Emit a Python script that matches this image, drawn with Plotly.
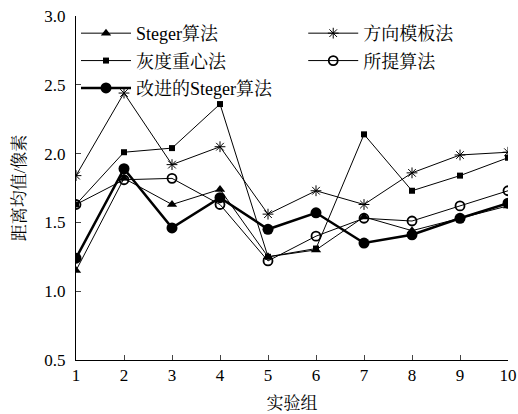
import plotly.graph_objects as go

groups = [1, 2, 3, 4, 5, 6, 7, 8, 9, 10]
steger = [1.15, 1.82, 1.63, 1.74, 1.25, 1.30, 1.54, 1.44, 1.53, 1.62]
direction_template = [1.84, 2.44, 1.92, 2.05, 1.56, 1.73, 1.63, 1.86, 1.99, 2.01]
gray_centroid = [1.63, 2.01, 2.04, 2.36, 1.25, 1.31, 2.14, 1.73, 1.84, 1.97]
proposed = [1.63, 1.81, 1.82, 1.63, 1.22, 1.40, 1.53, 1.51, 1.62, 1.73]
improved_steger = [1.24, 1.89, 1.46, 1.68, 1.45, 1.57, 1.35, 1.41, 1.53, 1.64]

names = ["Steger算法", "方向模板法", "灰度重心法", "所提算法", "改进的Steger算法"]

FONT = "Liberation Serif, Noto Serif CJK SC, Noto Sans CJK SC, serif"

fig = go.Figure()
fig.add_trace(go.Scatter(x=groups, y=steger, name=names[0], mode="lines+markers",
                         legend="legend", legendgroup="g1",
                         line=dict(color="black", width=1),
                         marker=dict(symbol="triangle-up", size=9, color="black")))
fig.add_trace(go.Scatter(x=groups, y=direction_template, name=names[1], mode="lines+markers",
                         legend="legend2", legendgroup="g2",
                         line=dict(color="black", width=1),
                         marker=dict(symbol="asterisk-open", size=9, color="black",
                                     line=dict(color="black", width=1))))
fig.add_trace(go.Scatter(x=groups, y=gray_centroid, name=names[2], mode="lines+markers",
                         legend="legend", legendgroup="g3",
                         line=dict(color="black", width=1),
                         marker=dict(symbol="square", size=6, color="black")))
fig.add_trace(go.Scatter(x=groups, y=proposed, name=names[3], mode="lines+markers",
                         legend="legend2", legendgroup="g4",
                         line=dict(color="black", width=1),
                         marker=dict(symbol="circle-open", size=9, color="black",
                                     line=dict(color="black", width=1.8))))
fig.add_trace(go.Scatter(x=groups, y=improved_steger, name=names[4], mode="lines+markers",
                         legend="legend", legendgroup="g5",
                         line=dict(color="black", width=2.5),
                         marker=dict(symbol="circle", size=11, color="black")))

legend_common = dict(orientation="v", xanchor="left", yanchor="top",
                     font=dict(family=FONT, size=18, color="black"),
                     bgcolor="rgba(0,0,0,0)", tracegroupgap=1, itemwidth=50)

fig.update_layout(
    width=518, height=414,
    margin=dict(l=76, r=10, t=16, b=54, autoexpand=False),
    paper_bgcolor="white", plot_bgcolor="white",
    font=dict(family=FONT, size=17, color="black"),
    showlegend=True,
    legend=dict(x=0.0, y=1.003, **legend_common),
    legend2=dict(x=0.526, y=1.003, **legend_common),
    xaxis=dict(range=[1, 10], tickvals=groups, ticks="inside", ticklen=5,
               showline=True, linecolor="black", linewidth=1, showgrid=False,
               zeroline=False, tickfont=dict(family=FONT, size=17),
               ticklabeloverflow="allow",
               title=dict(text="实验组", font=dict(family=FONT, size=17), standoff=12)),
    yaxis=dict(range=[0.5, 3.0], tickvals=[0.5, 1.0, 1.5, 2.0, 2.5, 3.0],
               ticktext=["0.5", "1.0", "1.5", "2.0", "2.5", "3.0"],
               ticks="inside", ticklen=5, ticklabelstandoff=6,
               ticklabeloverflow="allow",
               showline=True, linecolor="black", linewidth=1, showgrid=False,
               zeroline=False, tickfont=dict(family=FONT, size=17),
               title=dict(text="距离均值/像素", font=dict(family=FONT, size=17), standoff=14)),
)

fig.write_html(
    "out.html",
    config={"displayModeBar": False},
    post_script="document.body.style.margin='0';document.body.style.overflow='hidden';",
)
